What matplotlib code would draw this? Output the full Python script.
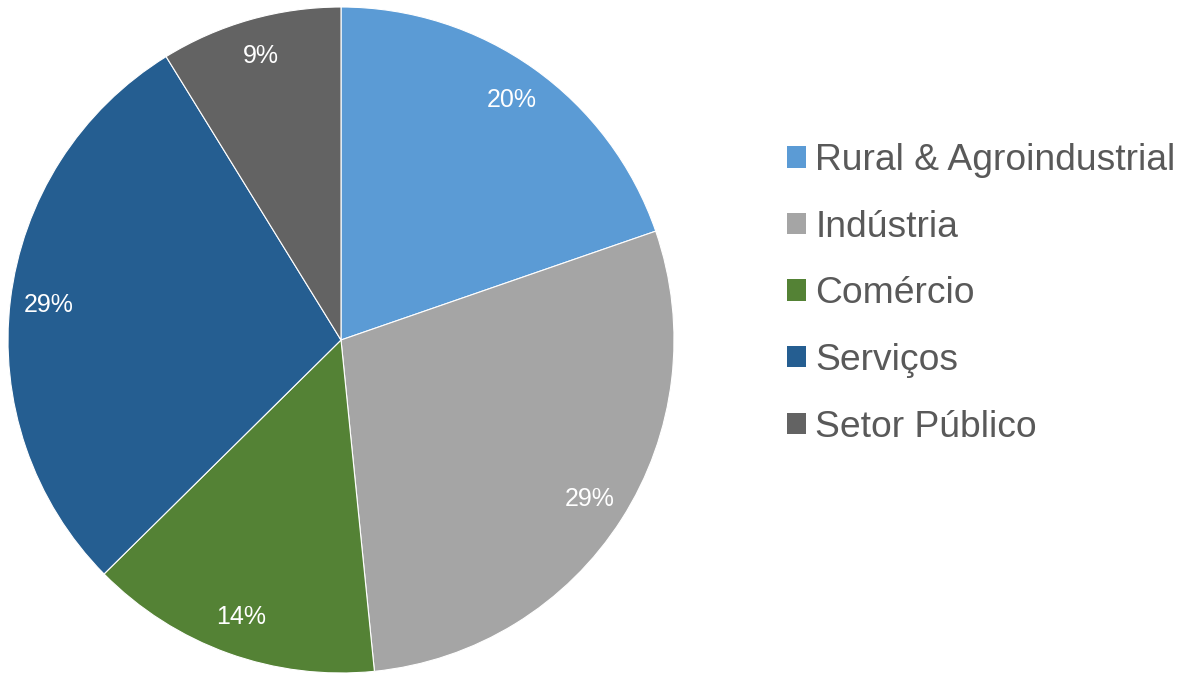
import matplotlib.pyplot as plt
from matplotlib.patches import Patch

plt.rcParams['font.family'] = ['Liberation Sans', 'DejaVu Sans']

setores = ["Rural & Agroindustrial", "Indústria", "Comércio", "Serviços", "Setor Público"]
participacao = [19.7, 28.7, 14.2, 28.6, 8.8]
cores = ["#5B9BD5", "#A5A5A5", "#548235", "#255E91", "#636363"]

W, H = 1181, 673
fig = plt.figure(figsize=(W / 100, H / 100), dpi=100)

# pie centre ~ (341, 340) px, radius ~ 333 px
cx, cy, r = 341, 340, 333
ax = fig.add_axes([(cx - r) / W, (H - cy - r) / H, 2 * r / W, 2 * r / H])

wedges, _, pct = ax.pie(
    participacao,
    colors=cores,
    startangle=90,
    counterclock=False,
    autopct="%.0f%%",
    pctdistance=0.885,
    wedgeprops=dict(edgecolor="white", linewidth=0.8),
    textprops=dict(color="white", fontsize=18),
)
ax.set_xlim(-1, 1)
ax.set_ylim(-1, 1)
ax.set_aspect("equal")
ax.axis("off")

handles = [Patch(facecolor=c, edgecolor="none") for c in cores]
leg = fig.legend(
    handles,
    setores,
    loc="upper left",
    bbox_to_anchor=(787 / W, 1 - 143 / H),
    frameon=False,
    fontsize=26.8,
    handlelength=0.51,
    handleheight=0.51,
    handletextpad=0.25,
    labelspacing=0.85,
    borderaxespad=0,
    borderpad=0,
)
for t in leg.get_texts():
    t.set_color("#595959")

fig.savefig("out.png", dpi=100)
